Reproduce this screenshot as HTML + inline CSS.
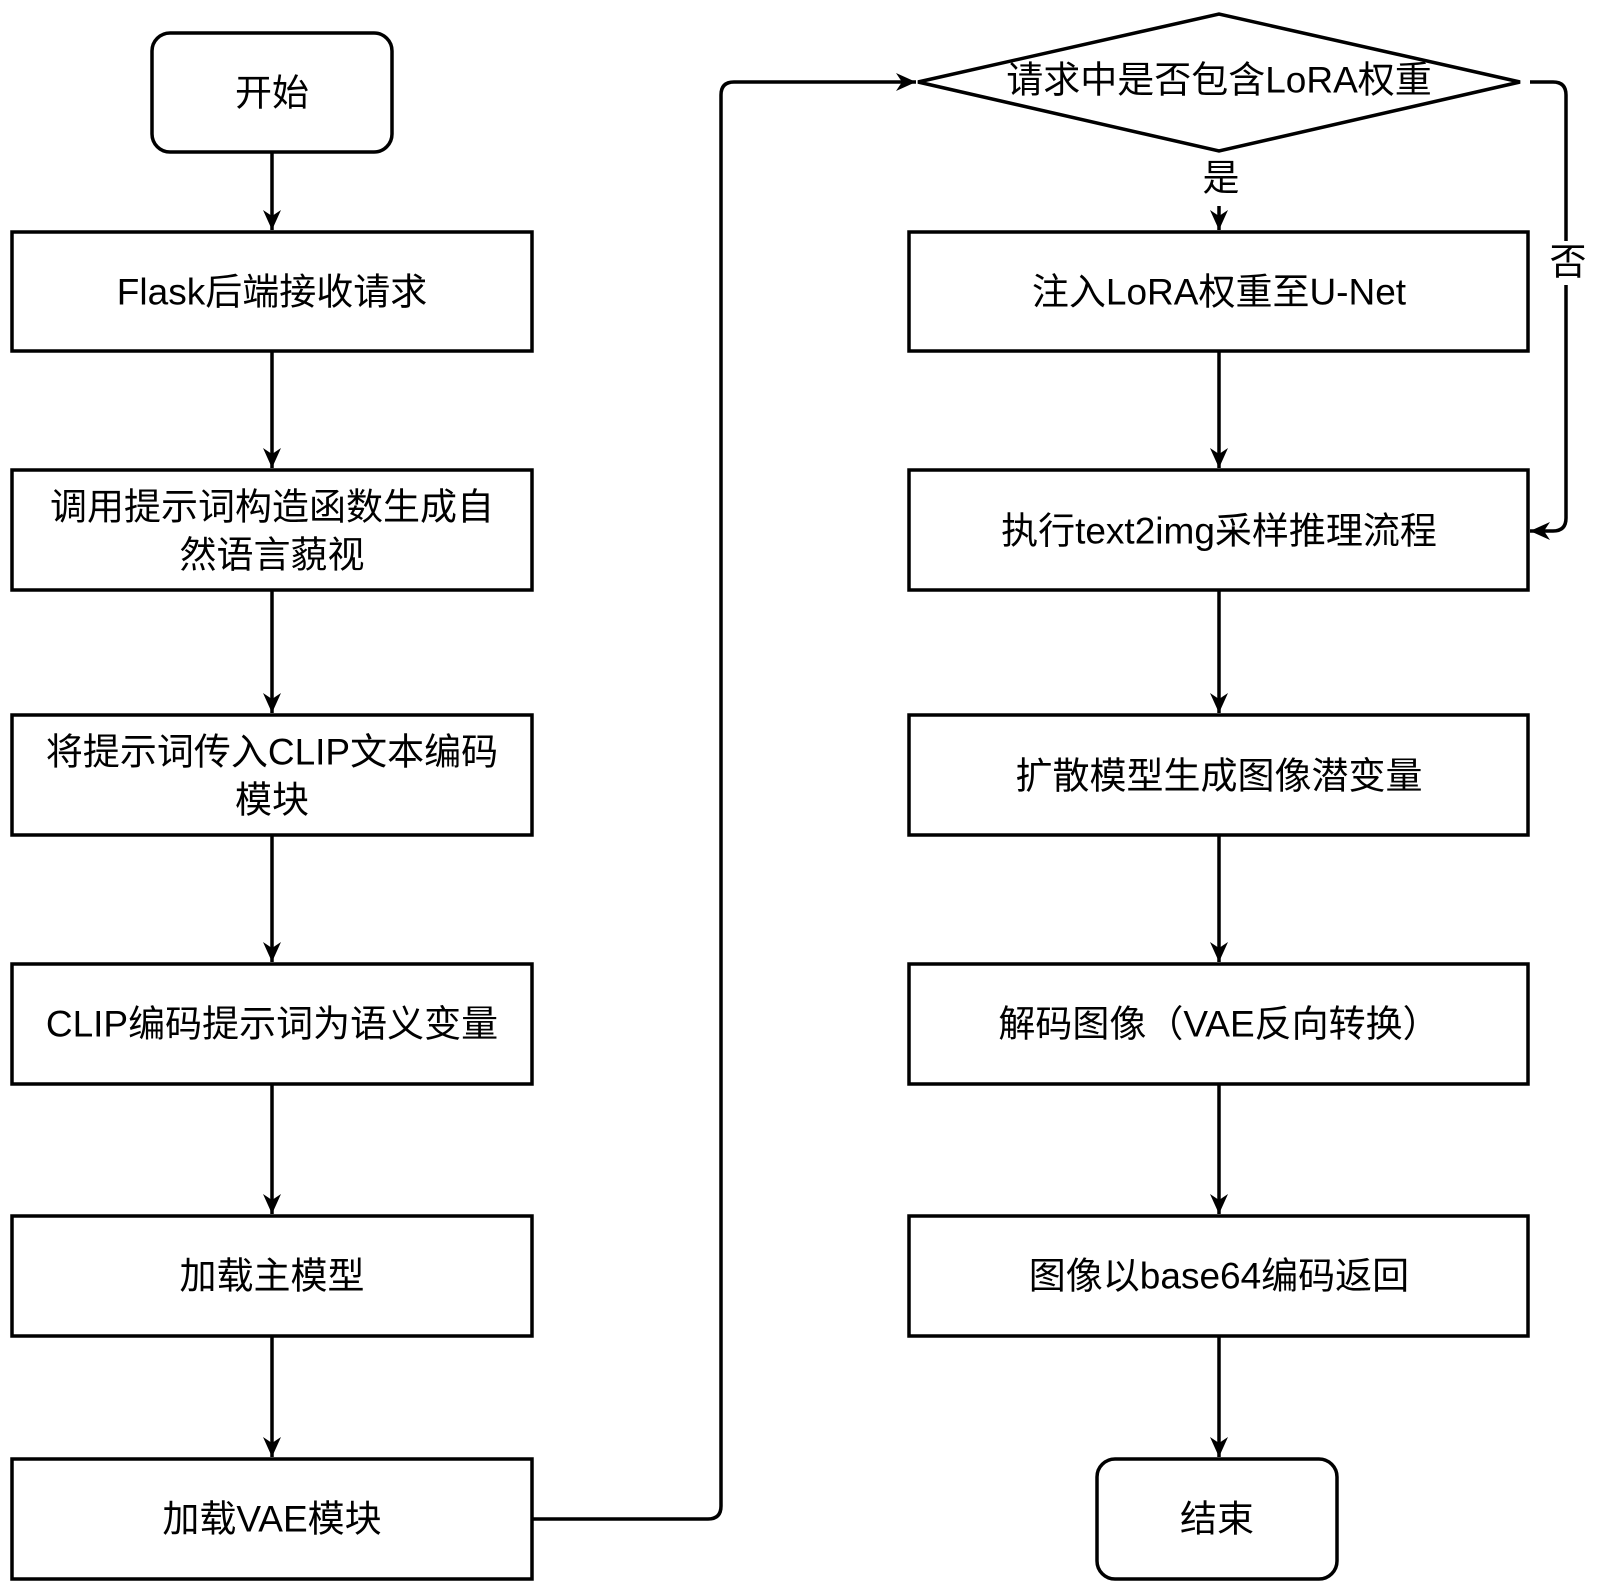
<!DOCTYPE html>
<html><head><meta charset="utf-8"><style>
body{margin:0;background:#fff}
text{font-family:"Liberation Sans","Noto Sans CJK SC",sans-serif;font-size:37px;fill:#000;text-anchor:middle;dominant-baseline:central}
</style></head><body>
<svg width="1600" height="1585" xmlns="http://www.w3.org/2000/svg">
<defs><marker id="a" markerWidth="10" markerHeight="10" refX="9" refY="5" orient="auto" markerUnits="userSpaceOnUse" viewBox="0 0 10 10"><path d="M0,0 L10,5 L0,10 L3,5 z" fill="#000"/></marker>
<marker id="b" markerWidth="22" markerHeight="22" refX="20" refY="11" orient="auto" markerUnits="userSpaceOnUse" viewBox="0 0 22 22"><path d="M0,2 L20,11 L0,20 L6,11 z" fill="#000"/></marker></defs>
<g fill="none" stroke="#000" stroke-width="3.5">
<rect x="152" y="33" width="240" height="119" rx="18"/>
<rect x="12" y="232" width="520" height="119"/>
<rect x="12" y="470" width="520" height="120"/>
<rect x="12" y="715" width="520" height="120"/>
<rect x="12" y="964" width="520" height="120"/>
<rect x="12" y="1216" width="520" height="120"/>
<rect x="12" y="1459" width="520" height="120"/>
<polygon points="918,82 1219,14 1520,82 1219,151"/>
<rect x="909" y="232" width="619" height="119"/>
<rect x="909" y="470" width="619" height="120"/>
<rect x="909" y="715" width="619" height="120"/>
<rect x="909" y="964" width="619" height="120"/>
<rect x="909" y="1216" width="619" height="120"/>
<rect x="1097" y="1459" width="240" height="120" rx="18"/>
</g>
<g fill="none" stroke="#000" stroke-width="3.5" marker-end="url(#b)">
<path d="M272 152V230"/><path d="M272 351V468"/><path d="M272 590V713"/><path d="M272 835V962"/><path d="M272 1084V1214"/><path d="M272 1336V1457"/>
<path d="M532 1519H708Q721 1519 721 1506V95Q721 82 734 82H916"/>
<path d="M1219 206V230"/>
<path d="M1219 351V468"/><path d="M1219 590V713"/><path d="M1219 835V962"/><path d="M1219 1084V1214"/><path d="M1219 1336V1457"/>
<path d="M1530 82H1553Q1566 82 1566 95V241M1566 285V518Q1566 531 1553 531H1530"/>
</g>
<text x="272" y="93">开始</text>
<text x="272" y="292">Flask后端接收请求</text>
<text x="272" y="507">调用提示词构造函数生成自</text>
<text x="272" y="555">然语言藐视</text>
<text x="272" y="752">将提示词传入CLIP文本编码</text>
<text x="272" y="800">模块</text>
<text x="272" y="1024">CLIP编码提示词为语义变量</text>
<text x="272" y="1276">加载主模型</text>
<text x="272" y="1519">加载VAE模块</text>
<text x="1219" y="80">请求中是否包含LoRA权重</text>
<text x="1221" y="178">是</text>
<text x="1568" y="262">否</text>
<text x="1219" y="292">注入LoRA权重至U-Net</text>
<text x="1219" y="531">执行text2img采样推理流程</text>
<text x="1219" y="776">扩散模型生成图像潜变量</text>
<text x="1219" y="1024">解码图像（VAE反向转换）</text>
<text x="1219" y="1276">图像以base64编码返回</text>
<text x="1217" y="1519">结束</text>
</svg>
</body></html>
